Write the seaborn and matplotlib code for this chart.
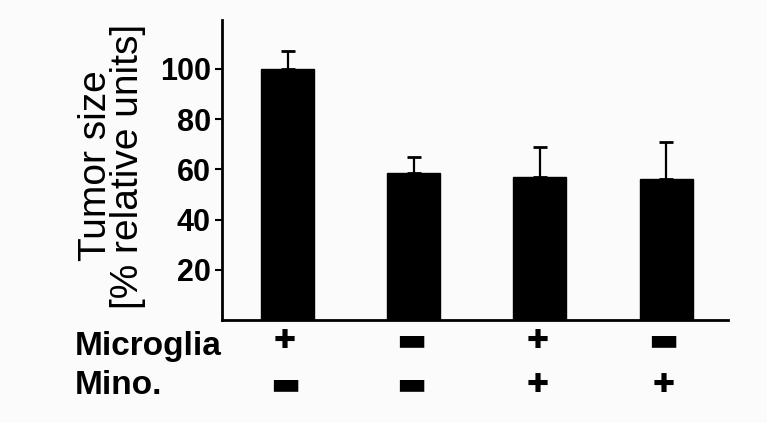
import matplotlib

matplotlib.use("Agg")
import matplotlib.pyplot as plt
import matplotlib.transforms as mtransforms
import numpy as np
import pandas as pd
import seaborn as sns

# values
groups = ["g1", "g2", "g3", "g4"]
tumor_size = [100.0, 58.7, 57.1, 56.3]
error_up = [7.0, 6.3, 11.8, 14.5]
microglia = ["\u271a", "\u25ac", "\u271a", "\u25ac"]
mino = ["\u25ac", "\u25ac", "\u271a", "\u271a"]
yticks = [20, 40, 60, 80, 100]

sns.set_theme(style="white")
plt.rcParams["font.family"] = ["Liberation Sans", "DejaVu Sans"]
plt.rcParams["text.color"] = "black"
plt.rcParams["axes.labelcolor"] = "black"

df = pd.DataFrame({"group": groups, "size": tumor_size})

bg = "#fbfbfb"
fig = plt.figure(figsize=(7.67, 4.23), dpi=100, facecolor=bg)
ax = fig.add_axes([222 / 767, 1 - 320 / 423, (728 - 222) / 767, 300 / 423])
ax.set_facecolor(bg)

sns.barplot(data=df, x="group", y="size", color="black", width=0.42,
            saturation=1, errorbar=None, ax=ax, edgecolor="black")

xpos = np.arange(len(groups))
ax.errorbar(xpos, tumor_size, yerr=[np.zeros(len(groups)), error_up],
            fmt="none", ecolor="black", elinewidth=1.6, capsize=5, capthick=2)

ax.set_xlim(-0.52, 3.49)
ax.set_ylim(0, 119.5)
ax.set_yticks(yticks)
ax.set_yticklabels([str(t) for t in yticks], fontsize=22, fontweight="bold")
ax.set_xticks([])
ax.set_xlabel("")
ax.set_ylabel("Tumor size\n[% relative units]", fontsize=28, linespacing=0.85)
ax.yaxis.set_label_coords(-0.150, 0.513)
ax.tick_params(axis="y", direction="out", length=5, width=1.5, pad=3,
               left=True, colors="black")
for side in ["top", "right"]:
    ax.spines[side].set_visible(False)
for side in ["left", "bottom"]:
    ax.spines[side].set_color("black")
    ax.spines[side].set_linewidth(2)

# condition rows below the axis
trans = mtransforms.blended_transform_factory(ax.transData, fig.transFigure)
rows = [("Microglia", microglia, 1 - 355 / 423, 1 - 341 / 423),
        ("Mino.", mino, 1 - 394 / 423, 1 - 385 / 423)]
for name, signs, ybase, ysign in rows:
    fig.text(75 / 767, ybase, name, fontsize=24, fontweight="bold",
             ha="left", va="baseline")
    for x, s in zip(xpos, signs):
        ax.text(x - 0.02, ysign, s, transform=trans,
                fontsize=19 if s == "\u271a" else 23,
                fontweight="bold", ha="center", va="center",
                family=["DejaVu Sans"])

fig.savefig("out.png", dpi=100, facecolor=bg)
